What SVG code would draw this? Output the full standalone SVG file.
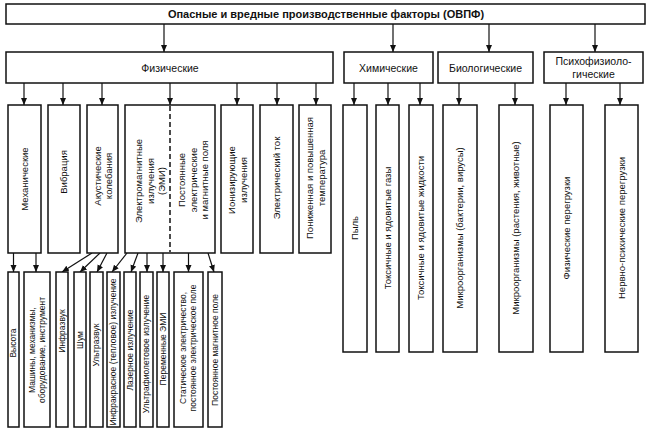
<svg xmlns="http://www.w3.org/2000/svg" width="650" height="431" viewBox="0 0 650 431">
<style>
.box{fill:#fff;stroke:#111;stroke-width:1.5}
.t{font-family:"Liberation Sans",Arial,sans-serif;fill:#111;text-anchor:middle}
.title{font-size:11px;font-weight:bold}
.h{font-size:10.5px}
.m{font-size:9.5px}
.s{font-size:8.5px}
.c{stroke:#111;stroke-width:1.2;fill:none;marker-end:url(#ah)}
.dash{stroke:#111;stroke-width:1.5;stroke-dasharray:5 3;fill:none}
</style>
<defs>
<marker id="ah" markerWidth="8" markerHeight="8" refX="7" refY="3" orient="auto" markerUnits="userSpaceOnUse">
<path d="M0,0 L7,3 L0,6 Z" fill="#111"/>
</marker>
</defs>
<rect width="650" height="431" fill="#fff"/>

<g id="connectors">
<line class="c" x1="164" y1="24" x2="164" y2="52"/>
<line class="c" x1="393" y1="24" x2="393" y2="52"/>
<line class="c" x1="489" y1="24" x2="489" y2="52"/>
<line class="c" x1="595" y1="24" x2="595" y2="52"/>

<line class="c" x1="24" y1="83" x2="24" y2="105"/>
<line class="c" x1="63" y1="83" x2="63" y2="105"/>
<line class="c" x1="102" y1="83" x2="102" y2="105"/>
<line class="c" x1="170" y1="83" x2="170" y2="105"/>
<line class="c" x1="237" y1="83" x2="237" y2="105"/>
<line class="c" x1="277" y1="83" x2="277" y2="105"/>
<line class="c" x1="316" y1="83" x2="316" y2="105"/>

<line class="c" x1="354" y1="83" x2="354" y2="105"/>
<line class="c" x1="388" y1="83" x2="388" y2="105"/>
<line class="c" x1="420" y1="83" x2="420" y2="105"/>
<line class="c" x1="459" y1="83" x2="459" y2="105"/>
<line class="c" x1="515" y1="83" x2="515" y2="105"/>
<line class="c" x1="566" y1="83" x2="566" y2="105"/>
<line class="c" x1="620" y1="83" x2="620" y2="105"/>

<line class="c" x1="13.5" y1="253" x2="13.5" y2="272"/>
<line class="c" x1="36" y1="253" x2="36" y2="272"/>
<line class="c" x1="92" y1="253" x2="62" y2="272"/>
<line class="c" x1="100" y1="253" x2="80" y2="272"/>
<line class="c" x1="107" y1="253" x2="97" y2="272"/>
<line class="c" x1="127" y1="253" x2="112" y2="272"/>
<line class="c" x1="138" y1="253" x2="131" y2="272"/>
<line class="c" x1="147" y1="253" x2="147" y2="272"/>
<line class="c" x1="163" y1="253" x2="163" y2="272"/>
<line class="c" x1="188.5" y1="253" x2="188.5" y2="272"/>
<line class="c" x1="208" y1="253" x2="214" y2="272"/>
</g>

<g id="ovpf">
<rect class="box" x="6" y="4" width="639" height="20"/>
<text class="t title" x="326" y="18">Опасные и вредные производственные факторы (ОВПФ)</text>
</g>

<g id="physical">
<rect class="box" x="6" y="52" width="327" height="31"/>
<text class="t h" x="170" y="71.5">Физические</text>
</g>
<g id="chemical">
<rect class="box" x="344" y="52" width="89" height="31"/>
<text class="t h" x="388.5" y="71.5">Химические</text>
</g>
<g id="biological">
<rect class="box" x="438" y="52" width="95" height="31"/>
<text class="t h" x="485.5" y="71.5">Биологические</text>
</g>
<g id="psycho">
<rect class="box" x="544" y="52" width="99" height="31"/>
<text class="t h" x="593.5" y="65">Психофизиоло-</text>
<text class="t h" x="593.5" y="78">гические</text>
</g>

<g id="mechanical">
<rect class="box" x="8" y="105" width="33" height="148"/>
<text class="t m" transform="translate(24.5,179) rotate(-90)" dy="0.35em">Механические</text>
</g>
<g id="vibration">
<rect class="box" x="48" y="105" width="32" height="148"/>
<text class="t m" transform="translate(64,172) rotate(-90)" dy="0.35em">Вибрация</text>
</g>
<g id="acoustic">
<rect class="box" x="87" y="105" width="31" height="148"/>
<text class="t m" transform="translate(102.5,176) rotate(-90)"><tspan x="0" dy="-0.2em">Акустические</tspan><tspan x="0" dy="11">колебания</tspan></text>
</g>
<g id="emi">
<rect class="box" x="125" y="105" width="90" height="148"/>
<line class="dash" x1="170" y1="106" x2="170" y2="252"/>
<text class="t m" transform="translate(150,181) rotate(-90)"><tspan x="0" dy="-0.8em">Электромагнитные</tspan><tspan x="0" dy="11.5">излучения</tspan><tspan x="0" dy="11.5">(ЭМИ)</tspan></text>
<text class="t m" transform="translate(193,180) rotate(-90)"><tspan x="0" dy="-0.8em">Постоянные</tspan><tspan x="0" dy="11.5">электрические</tspan><tspan x="0" dy="11.5">и магнитные поля</tspan></text>
</g>
<g id="ionizing">
<rect class="box" x="221" y="105" width="32" height="148"/>
<text class="t m" transform="translate(237,180) rotate(-90)"><tspan x="0" dy="-0.2em">Ионизирующие</tspan><tspan x="0" dy="11.5">излучения</tspan></text>
</g>
<g id="current">
<rect class="box" x="260" y="105" width="33" height="148"/>
<text class="t m" transform="translate(276.5,178) rotate(-90)" dy="0.35em">Электрический ток</text>
</g>
<g id="temperature">
<rect class="box" x="299" y="105" width="32" height="148"/>
<text class="t m" transform="translate(315,178) rotate(-90)"><tspan x="0" dy="-0.2em">Пониженная и повышенная</tspan><tspan x="0" dy="11.5">температура</tspan></text>
</g>

<g id="dust">
<rect class="box" x="343" y="105" width="24" height="247"/>
<text class="t m" transform="translate(355,228) rotate(-90)" dy="0.35em">Пыль</text>
</g>
<g id="gases">
<rect class="box" x="376" y="105" width="23" height="247"/>
<text class="t m" transform="translate(387.5,228) rotate(-90)" dy="0.35em">Токсичные и ядовитые газы</text>
</g>
<g id="liquids">
<rect class="box" x="409" y="105" width="24" height="247"/>
<text class="t m" transform="translate(421,228) rotate(-90)" dy="0.35em">Токсичные и ядовитые жидкости</text>
</g>
<g id="bacteria">
<rect class="box" x="443" y="105" width="34" height="247"/>
<text class="t m" transform="translate(460,228) rotate(-90)" dy="0.35em">Микроорганизмы (бактерии, вирусы)</text>
</g>
<g id="plants">
<rect class="box" x="499" y="105" width="34" height="247"/>
<text class="t m" transform="translate(516,228) rotate(-90)" dy="0.35em">Микроорганизмы (растения, животные)</text>
</g>
<g id="phys-overload">
<rect class="box" x="550" y="105" width="33" height="247"/>
<text class="t m" transform="translate(566.5,228) rotate(-90)" dy="0.35em">Физические перегрузки</text>
</g>
<g id="neuro-overload">
<rect class="box" x="605" y="105" width="33" height="247"/>
<text class="t m" transform="translate(621.5,228) rotate(-90)" dy="0.35em">Нервно-психические перегрузки</text>
</g>

<g id="height">
<rect class="box" x="8" y="272" width="11" height="155"/>
<text class="t s" transform="translate(13.5,343) rotate(-90)" dy="0.35em">Высота</text>
</g>
<g id="machines">
<rect class="box" x="24" y="272" width="26" height="155"/>
<text class="t s" transform="translate(37,350) rotate(-90)"><tspan x="0" dy="-0.2em">Машины, механизмы,</tspan><tspan x="0" dy="9.5">оборудование, инструмент</tspan></text>
</g>
<g id="infrasound">
<rect class="box" x="56" y="272" width="12" height="155"/>
<text class="t s" transform="translate(62,331) rotate(-90)" dy="0.35em">Инфразвук</text>
</g>
<g id="noise">
<rect class="box" x="74" y="272" width="12" height="155"/>
<text class="t s" transform="translate(80,340) rotate(-90)" dy="0.35em">Шум</text>
</g>
<g id="ultrasound">
<rect class="box" x="90" y="272" width="13" height="155"/>
<text class="t s" transform="translate(96.5,345) rotate(-90)" dy="0.35em">Ультразвук</text>
</g>
<g id="infrared">
<rect class="box" x="107" y="272" width="13" height="155"/>
<text class="t s" transform="translate(113.5,352) rotate(-90)" dy="0.35em">Инфракрасное (тепловое) излучение</text>
</g>
<g id="laser">
<rect class="box" x="124" y="272" width="12" height="155"/>
<text class="t s" transform="translate(130,350) rotate(-90)" dy="0.35em">Лазерное излучение</text>
</g>
<g id="uv">
<rect class="box" x="140" y="272" width="13" height="155"/>
<text class="t s" transform="translate(146.5,354) rotate(-90)" dy="0.35em">Ультрафиолетовое излучение</text>
</g>
<g id="var-emi">
<rect class="box" x="157" y="272" width="12" height="155"/>
<text class="t s" transform="translate(163,349) rotate(-90)" dy="0.35em">Переменные ЭМИ</text>
</g>
<g id="static">
<rect class="box" x="174" y="272" width="29" height="155"/>
<text class="t s" transform="translate(188.5,348) rotate(-90)"><tspan x="0" dy="-0.3em">Статическое электричество,</tspan><tspan x="0" dy="10">постоянное электрическое поле</tspan></text>
</g>
<g id="magnetic">
<rect class="box" x="208" y="272" width="14" height="155"/>
<text class="t s" transform="translate(215,350) rotate(-90)" dy="0.35em">Постоянное магнитное поле</text>
</g>
</svg>
